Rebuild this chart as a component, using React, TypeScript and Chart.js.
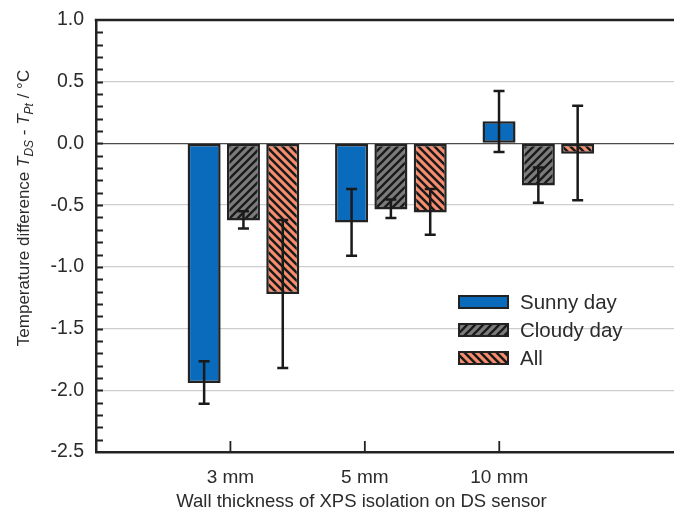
import React, { useEffect, useRef } from 'react';
import { Chart, registerables } from 'chart.js';

Chart.register(...registerables);

// ---- data ----
const categories = ['3 mm', '5 mm', '10 mm'];
const seriesLabels = ['Sunny day', 'Cloudy day', 'All'];

const sunny = [-1.94, -0.64, 0.18];
const sunnyLow = [-2.11, -0.91, -0.07];
const sunnyHigh = [-1.765, -0.37, 0.425];

const cloudy = [-0.625, -0.535, -0.34];
const cloudyLow = [-0.69, -0.605, -0.48];
const cloudyHigh = [-0.55, -0.455, -0.195];

const allData = [-1.22, -0.56, -0.083];
const allLow = [-1.82, -0.74, -0.46];
const allHigh = [-0.62, -0.37, 0.305];

const yMin = -2.5;
const yMax = 1.0;
const yStep = 0.5;
const yMinorStep = 0.1;

const xAxisTitle = 'Wall thickness of XPS isolation on DS sensor';

// ---- styles ----
const FONT = '"Liberation Sans", Arial, sans-serif';
const TEXT = '#2b2b2b';
const EDGE = '#222222';
const BLUE = '#0a6bbd';
const GRAY = '#7b7b7b';
const SALMON = '#f58d6e';

function makeHatch(bg: string, dir: 'fwd' | 'back', size: number, lw: number) {
  const c = document.createElement('canvas');
  c.width = size;
  c.height = size;
  const g = c.getContext('2d')!;
  g.fillStyle = bg;
  g.fillRect(0, 0, size, size);
  g.strokeStyle = '#1a1a1a';
  g.lineWidth = lw;
  g.lineCap = 'square';
  g.beginPath();
  if (dir === 'fwd') {
    g.moveTo(0, size); g.lineTo(size, 0);
    g.moveTo(-size / 2, size / 2); g.lineTo(size / 2, -size / 2);
    g.moveTo(size / 2, size * 1.5); g.lineTo(size * 1.5, size / 2);
  } else {
    g.moveTo(0, 0); g.lineTo(size, size);
    g.moveTo(-size / 2, size / 2); g.lineTo(size / 2, size * 1.5);
    g.moveTo(size / 2, -size / 2); g.lineTo(size * 1.5, size / 2);
  }
  g.stroke();
  return g.createPattern(c, 'repeat')!;
}

const lows = [sunnyLow, cloudyLow, allLow];
const highs = [sunnyHigh, cloudyHigh, allHigh];

const decorPlugin = {
  id: 'decor',
  afterDatasetsDraw(chart: any) {
    const ctx = chart.ctx as CanvasRenderingContext2D;
    const y = chart.scales.y;
    ctx.save();
    ctx.strokeStyle = '#1a1a1a';
    ctx.lineWidth = 2.5;
    chart.data.datasets.forEach((_: any, d: number) => {
      const meta = chart.getDatasetMeta(d);
      meta.data.forEach((el: any, j: number) => {
        const x = el.x;
        const yl = y.getPixelForValue(lows[d][j]);
        const yh = y.getPixelForValue(highs[d][j]);
        const cap = 5.5;
        ctx.beginPath();
        ctx.moveTo(x, yl); ctx.lineTo(x, yh);
        ctx.moveTo(x - cap, yl); ctx.lineTo(x + cap, yl);
        ctx.moveTo(x - cap, yh); ctx.lineTo(x + cap, yh);
        ctx.stroke();
      });
    });
    ctx.restore();
  },
  afterDraw(chart: any) {
    const ctx = chart.ctx as CanvasRenderingContext2D;
    const { left, right, top, bottom } = chart.chartArea;
    const y = chart.scales.y;
    const x = chart.scales.x;
    ctx.save();
    // top frame line
    ctx.strokeStyle = EDGE;
    ctx.lineWidth = 2.5;
    ctx.beginPath();
    ctx.moveTo(left - 1.25, top);
    ctx.lineTo(right, top);
    ctx.stroke();
    // y minor/major inward ticks
    ctx.lineWidth = 1.8;
    ctx.beginPath();
    const n0 = Math.round(yMin / yMinorStep);
    const n1 = Math.round(yMax / yMinorStep);
    for (let i = n0 + 1; i < n1; i++) {
      const py = Math.round(y.getPixelForValue(i * yMinorStep)) + 0.5;
      ctx.moveTo(left, py);
      ctx.lineTo(left + 7, py);
    }
    ctx.stroke();
    // x inward ticks
    ctx.beginPath();
    categories.forEach((_, i) => {
      const px = x.getPixelForValue(i + 1);
      ctx.moveTo(px, bottom);
      ctx.lineTo(px, bottom - 11);
    });
    ctx.stroke();

    // x axis title
    ctx.fillStyle = TEXT;
    ctx.font = `18.5px ${FONT}`;
    ctx.textAlign = 'center';
    ctx.textBaseline = 'alphabetic';
    ctx.fillText(xAxisTitle, 361.5, 506.5);

    // y axis title with subscripts
    const parts = [
      { t: 'Temperature difference ', it: false, sub: false },
      { t: 'T', it: true, sub: false },
      { t: 'DS', it: true, sub: true },
      { t: ' - ', it: false, sub: false },
      { t: 'T', it: true, sub: false },
      { t: 'Pt', it: true, sub: true },
      { t: ' / °C', it: false, sub: false },
    ];
    const fontFor = (p: any) => `${p.it ? 'italic ' : ''}${p.sub ? 12 : 17}px ${FONT}`;
    let total = 0;
    const widths = parts.map((p) => {
      ctx.font = fontFor(p);
      const w = ctx.measureText(p.t).width;
      total += w;
      return w;
    });
    ctx.translate(28.5, 208 + total / 2);
    ctx.rotate(-Math.PI / 2);
    ctx.textAlign = 'left';
    let cx = 0;
    parts.forEach((p, i) => {
      ctx.font = fontFor(p);
      ctx.fillText(p.t, cx, p.sub ? 4 : 0);
      cx += widths[i];
    });
    ctx.setTransform(1, 0, 0, 1, 0, 0);

    // legend
    chart.data.datasets.forEach((ds: any, i: number) => {
      const bx = 458;
      const by = 295 + i * 28;
      ctx.fillStyle = ds.backgroundColor;
      ctx.fillRect(bx, by, 51, 14);
      ctx.strokeStyle = EDGE;
      ctx.lineWidth = 2;
      ctx.strokeRect(bx + 1, by + 1, 49, 12);
      ctx.fillStyle = TEXT;
      ctx.font = `20.5px ${FONT}`;
      ctx.textAlign = 'left';
      ctx.textBaseline = 'middle';
      ctx.fillText(ds.label, 520, by + 8);
    });
    ctx.restore();
  },
};

export default function App() {
  const ref = useRef<HTMLCanvasElement>(null);
  useEffect(() => {
    const canvas = ref.current!;
    const grayHatch = makeHatch(GRAY, 'fwd', 8, 2.3);
    const salmonHatch = makeHatch(SALMON, 'back', 8, 2.5);
    const fills = [BLUE, grayHatch, salmonHatch];
    const values = [sunny, cloudy, allData];

    const chart = new Chart(canvas, {
      type: 'bar',
      data: {
        datasets: values.map((vals, d) => ({
          label: seriesLabels[d],
          data: vals.map((v, i) => ({ x: i + 1, y: v })),
          backgroundColor: fills[d] as any,
          borderColor: EDGE,
          borderWidth: 2.5,
          borderSkipped: false,
          xAxisID: 'xb',
          yAxisID: 'y',
          categoryPercentage: 0.8,
          barPercentage: 0.84,
        })),
      },
      options: {
        responsive: false,
        animation: false,
        layout: { padding: { top: 20, right: 0, left: 0, bottom: 0 } },
        plugins: { legend: { display: false }, tooltip: { enabled: false } },
        scales: {
          xb: {
            type: 'linear',
            display: false,
            offset: false,
            min: 0,
            max: 3.92,
            afterBuildTicks: (s: any) => {
              s.ticks = categories.map((_, i) => ({ value: i + 1 }));
            },
          },
          x: {
            type: 'linear',
            position: 'bottom',
            offset: false,
            min: 0,
            max: 4.3,
            afterBuildTicks: (s: any) => {
              s.ticks = categories.map((_, i) => ({ value: i + 1 }));
            },
            afterFit: (s: any) => {
              s.height = 62;
              s.paddingLeft = 0;
              s.paddingRight = 0;
            },
            grid: { display: false, drawTicks: false },
            border: { display: true, color: EDGE, width: 2.5 },
            ticks: {
              padding: 14,
              color: TEXT,
              font: { family: FONT, size: 19 },
              maxRotation: 0,
              autoSkip: false,
              callback: (v: any) => categories[Math.round(Number(v)) - 1] ?? '',
            },
          },
          y: {
            type: 'linear',
            min: yMin,
            max: yMax,
            afterFit: (s: any) => {
              s.width = 96;
              s.paddingTop = 0;
              s.paddingBottom = 0;
            },
            grid: {
              drawTicks: false,
              color: (c: any) => (c.tick && Math.abs(c.tick.value) < 1e-9 ? '#4a4a4a' : '#cdcdcd'),
              lineWidth: 1.3,
            },
            border: { display: true, color: EDGE, width: 2.5 },
            ticks: {
              stepSize: yStep,
              padding: 12,
              color: TEXT,
              font: { family: FONT, size: 19.5 },
              callback: (v: any) => Number(v).toFixed(1),
            },
          },
        },
      },
      plugins: [decorPlugin],
    } as any);
    return () => chart.destroy();
  }, []);
  return (
    <div style={{ position: 'fixed', left: 0, top: 0, width: 674, height: 514, background: '#fff' }}>
      <canvas ref={ref} width={674} height={514} />
    </div>
  );
}
